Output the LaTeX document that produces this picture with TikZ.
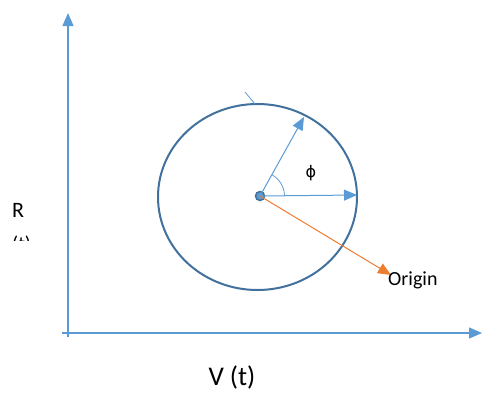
\documentclass[tikz,border=0pt]{standalone}
\usepackage{fontspec}
\setmainfont{Carlito}
\newfontfamily\phifont{DejaVu Sans}
\usetikzlibrary{arrows.meta,shapes.geometric}
\definecolor{axisblue}{HTML}{5B9BD5}
\definecolor{ringblue}{HTML}{41719C}
\definecolor{orangeln}{HTML}{ED7D31}
\begin{document}
\begin{tikzpicture}[x=1pt,y=-1pt,
  axis/.style={draw=axisblue,line width=1.2pt,-{Triangle[length=13pt,width=11pt]}},
  vec/.style={draw=axisblue,line width=1pt,-{Triangle[length=13pt,width=11pt]}},
  lbl/.style={inner sep=0pt,font=\fontsize{20}{24}\selectfont}]
\useasboundingbox (0,0) rectangle (482,392);
% axes
\coordinate (yb) at (68,337);
\coordinate (yt) at (68,13);
\coordinate (xl) at (62,333);
\coordinate (xr) at (482,333);
\draw[axis] (yb) -- (yt);
\draw[axis] (xl) -- (xr);
% ellipse
\node[draw=ringblue,line width=2pt,ellipse,minimum width=199pt,minimum height=186pt,inner sep=0pt] (ring) at (257.5,197) {};
\coordinate (t1) at (245,92);
\coordinate (t2) at (255,104);
\draw[draw=axisblue,line width=0.8pt] (t1) -- (t2);
% center
\node[circle,fill=axisblue,draw=ringblue,line width=1.5pt,minimum size=9pt,inner sep=0pt] (c) at (260,196) {};
\coordinate (up) at (304,117);
\coordinate (rt) at (357,195);
\coordinate (or) at (391,275);
\draw[vec] (c.center) -- (up);
\draw[vec] (c.center) -- (rt);
\draw[draw=orangeln,line width=1pt,-{Triangle[length=13pt,width=11pt]}] (c.center) -- (or);
\draw[draw=axisblue,line width=0.8pt] (284.5,195.7) arc[start angle=-1,end angle=-61,radius=24.5];
\node[lbl,font=\fontsize{16}{20}\phifont] (phi) at (311,173) {ϕ};
\node[lbl,anchor=base west] (origin) at (388,285) {Origin};
\node[lbl,anchor=base,font=\fontsize{27}{30}\selectfont] (vt) at (232,385) {V (t)};
\node[lbl,anchor=base west,font=\fontsize{22}{26}\selectfont] (r) at (12,217) {R};
\begin{scope}
\clip (0,234) rectangle (60,240.5);
\node[lbl,anchor=base west] (rt2) at (12,250) {(t)};
\end{scope}
\end{tikzpicture}
\end{document}
